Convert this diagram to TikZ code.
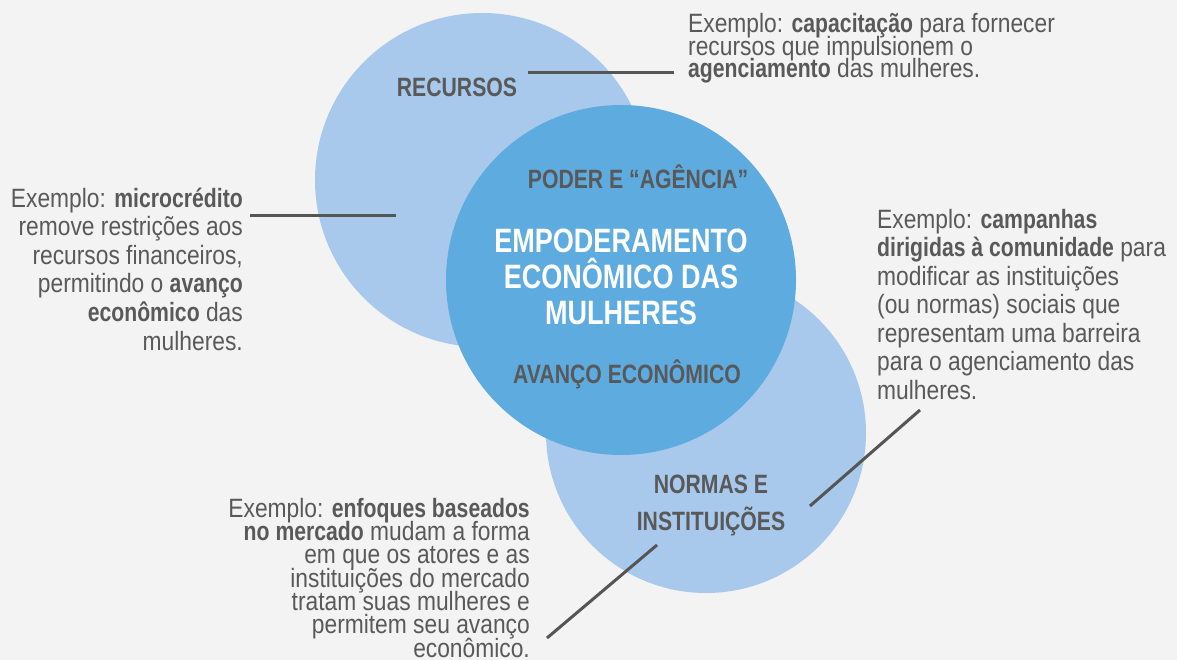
\documentclass[tikz,border=0pt]{standalone}
\usepackage{fontspec}
\setmainfont{Liberation Sans}[FakeStretch=0.86, BoldFeatures={FakeStretch=0.8}]
\newfontfamily\lblfont{Liberation Sans}[FakeStretch=0.8]
\definecolor{bgc}{HTML}{F3F3F3}
\definecolor{lightblue}{HTML}{A8C9EC}
\definecolor{darkblue}{HTML}{5EABE0}
\definecolor{txt}{HTML}{595959}
\definecolor{linec}{HTML}{555555}
\newcommand{\fsz}[2]{\fontsize{#1}{#2}\selectfont\lineskiplimit=-50pt\relax}
\tikzset{
  label/.style={font=\lblfont\fsz{26.5}{29}\bfseries, text=txt, inner sep=0pt, anchor=base},
  body/.style={text=txt, inner sep=0pt},
  connector/.style={draw=linec, line width=3pt},
}
\begin{document}
\begin{tikzpicture}[x=1pt,y=-1pt]
\fill[bgc] (0,0) rectangle (1177,660);
\useasboundingbox (0,0) rectangle (1177,660);
% circles
\fill[lightblue] (482,180) circle[radius=167];
\fill[lightblue] (706,433) circle[radius=160];
\fill[darkblue] (621,280) circle[radius=175];
% labels
\node[label] (rec) at (457,97) {RECURSOS};
\node[label] (pod) at (638,189) {PODER E “AGÊNCIA”};
\node[label, text=white, font=\lblfont\fsz{33.8}{36}\bfseries, align=center] (emp) at (621,324) {EMPODERAMENTO\\ECONÔMICO DAS\\MULHERES};
\node[label] (ava) at (627,383) {AVANÇO ECONÔMICO};
\node[label, align=center, font=\lblfont\fsz{26.5}{37}\bfseries] (nor) at (711,530) {NORMAS E\\INSTITUIÇÕES};
% example texts
\node[body, anchor=base west, align=left, font=\fsz{26.5}{22.5}] (ex1) at (688,78)
  {Exemplo: \textbf{capacitação} para fornecer\\recursos que impulsionem o\\\textbf{agenciamento} das mulheres.};
\node[body, anchor=base east, align=right, font=\fsz{26.5}{28.6}] (ex2) at (243,350)
  {Exemplo: \textbf{microcrédito}\\remove restrições aos\\recursos financeiros,\\permitindo o \textbf{avanço}\\\textbf{econômico} das\\mulheres.};
\node[body, anchor=base west, align=left, font=\fsz{26.5}{28.5}] (ex3) at (877,399)
  {Exemplo: \textbf{campanhas}\\\textbf{dirigidas à comunidade} para\\modificar as instituições\\(ou normas) sociais que\\representam uma barreira\\para o agenciamento das\\mulheres.};
\node[body, anchor=base east, align=right, font=\fsz{26.5}{23.3}] (ex4) at (530,657)
  {Exemplo: \textbf{enfoques baseados}\\\textbf{no mercado} mudam a forma\\em que os atores e as\\instituições do mercado\\tratam suas mulheres e\\permitem seu avanço\\econômico.};
% connectors
\coordinate (c1a) at (528,73);
\coordinate (c1b) at (674,73);
\coordinate (c2a) at (250,216);
\coordinate (c2b) at (396,216);
\coordinate (c3a) at (810,506);
\coordinate (c3b) at (920,410);
\coordinate (c4a) at (547,638);
\coordinate (c4b) at (657,545);
\draw[connector] (c1a) -- (c1b);
\draw[connector] (c2a) -- (c2b);
\draw[connector] (c3a) -- (c3b);
\draw[connector] (c4a) -- (c4b);
\end{tikzpicture}
\end{document}
